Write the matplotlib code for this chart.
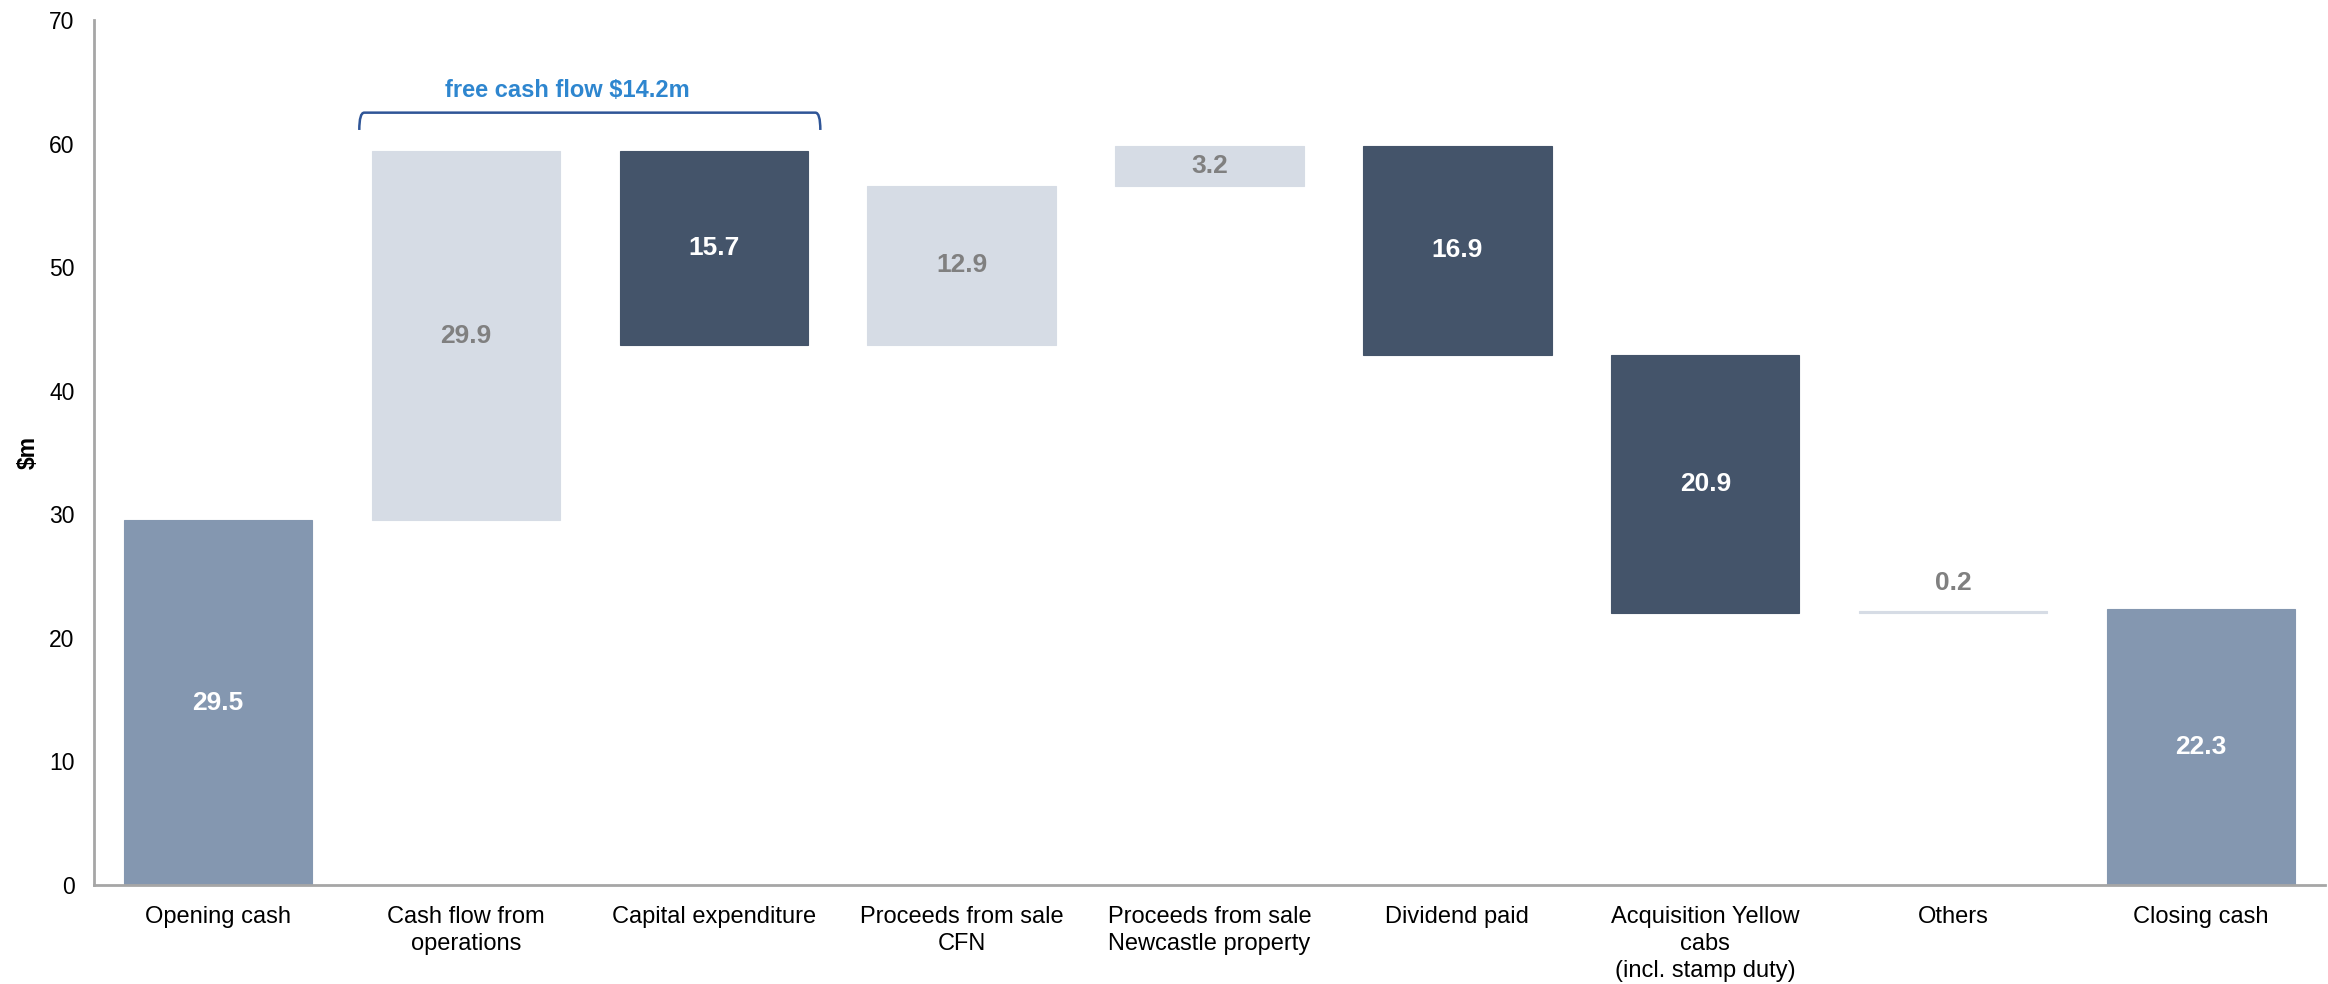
import numpy as np
import matplotlib
matplotlib.use("Agg")
import matplotlib.pyplot as plt
from matplotlib.path import Path
from matplotlib.patches import PathPatch

plt.rcParams['font.family'] = ['Liberation Sans', 'DejaVu Sans']

categories = ["Opening cash", "Cash flow from\noperations", "Capital expenditure",
              "Proceeds from sale\nCFN", "Proceeds from sale\nNewcastle property",
              "Dividend paid", "Acquisition Yellow\ncabs\n(incl. stamp duty)",
              "Others", "Closing cash"]
# signed movements; first and last are totals
changes = [29.5, 29.9, -15.7, 12.9, 3.2, -16.9, -20.9, 0.2, 22.3]
kinds = ["total", "up", "down", "up", "up", "down", "down", "up", "total"]
labels = ["29.5", "29.9", "15.7", "12.9", "3.2", "16.9", "20.9", "0.2", "22.3"]
fcf_text = "free cash flow $14.2m"

colors = {"total": "#8497B0", "up": "#D6DCE5", "down": "#44546A"}
text_colors = {"total": "white", "up": "#808080", "down": "white"}

# compute bottoms / heights for the waterfall
bottoms, heights = [], []
running = 0.0
for c, k in zip(changes, kinds):
    if k == "total":
        bottoms.append(0)
        heights.append(c)
        running = c
    else:
        start = running
        running = running + c
        bottoms.append(min(start, running))
        heights.append(abs(c))

fig = plt.figure(figsize=(23.28, 9.84), dpi=100)
ax = fig.add_axes([0.0404, 0.1006, 0.9583, 0.8791])

x = np.arange(len(categories))
ax.bar(x, heights, bottom=bottoms, width=0.76,
       color=[colors[k] for k in kinds], edgecolor=[colors[k] for k in kinds],
       linewidth=0.8, zorder=2)

for i in range(len(x)):
    k = kinds[i]
    if heights[i] < 1:
        # tiny bar: label sits above it
        ypos = bottoms[i] + heights[i] + 2.2
    else:
        ypos = bottoms[i] + heights[i] / 2
    ax.text(x[i], ypos, labels[i], ha="center", va="center",
            fontsize=19, fontweight="bold", color=text_colors[k])

# bracket over cash flow + capex
x0, x1 = 0.57, 2.43
ytop, ybot = 62.5, 61.1
r = 0.02
verts = [(x0, ybot), (x0, ytop), (x0 + r, ytop), (x1 - r, ytop), (x1, ytop), (x1, ybot)]
codes = [Path.MOVETO, Path.CURVE3, Path.CURVE3, Path.LINETO, Path.CURVE3, Path.CURVE3]
ax.add_patch(PathPatch(Path(verts, codes), fill=False, edgecolor="#2F5597", lw=1.8, zorder=3))
ax.text(1.41, 64.3, fcf_text, ha="center", va="center",
        fontsize=17, fontweight="bold", color="#2E86CF")

ax.set_xlim(-0.5, len(categories) - 0.5)
ax.set_ylim(0, 70)
ax.set_yticks(np.arange(0, 71, 10))
ax.set_xticks(x)
ax.set_xticklabels(categories, fontsize=17, linespacing=1.3)
ax.tick_params(axis="y", length=0, labelsize=16.5, pad=14)
ax.tick_params(axis="x", length=0, pad=15)
ax.set_ylabel("$m", fontsize=16.5, fontweight="bold", labelpad=7)

for s in ["top", "right"]:
    ax.spines[s].set_visible(False)
for s in ["left", "bottom"]:
    ax.spines[s].set_color("#A6A6A6")
    ax.spines[s].set_linewidth(2)

fig.savefig("out.png", dpi=100)
